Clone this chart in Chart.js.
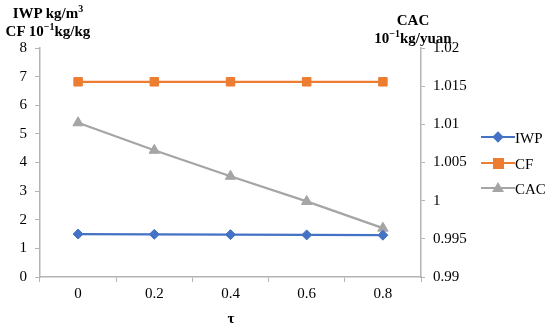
<!DOCTYPE html>
<html lang="en">
<head>
    <meta charset="UTF-8">
    <title>IWP, CF and CAC vs tau</title>
    <script src="https://cdn.jsdelivr.net/npm/chart.js"></script>
    <style>
        body { margin: 0; background: #ffffff; }
        .wrap { width: 550px; height: 330px; position: relative; font-family: "Liberation Serif", "Times New Roman", serif; }
        .title { position: absolute; width: 110px; text-align: center; font-weight: bold; font-size: 15px; line-height: 18px; color: #000; white-space: nowrap; }
        .title sup { font-size: 10px; line-height: 0; }
        .leg-line { position: absolute; left: 481px; width: 34px; height: 2px; }
        .leg-text { position: absolute; left: 515px; font-size: 15px; line-height: 18px; color: #000; }
        .mk { position: absolute; }
    </style>
</head>
<body>
<div class="wrap">
    <canvas id="chart" width="550" height="330"></canvas>
    <!-- axis titles -->
    <div class="title" style="left:-7px; top:4px;">IWP kg/m<sup>3</sup></div>
    <div class="title" style="left:-7px; top:22px;">CF 10<sup>−1</sup>kg/kg</div>
    <div class="title" style="left:358px; top:11px;">CAC</div>
    <div class="title" style="left:358px; top:29px;">10<sup>−1</sup>kg/yuan</div>
    <div class="title" style="left:176px; top:309px;">τ</div>
    <div id="legend"></div>
</div>
<script>
    // Data
    const tauLabels = ['0', '0.2', '0.4', '0.6', '0.8'];
    const iwpValues = [1.50, 1.49, 1.48, 1.47, 1.46];
    const cfValues = [6.82, 6.82, 6.82, 6.82, 6.82];
    const cacValues = [1.0102, 1.0066, 1.0032, 0.9999, 0.9964];

    const FONT = '"Liberation Serif", "Times New Roman", serif';
    const AXIS_GREY = '#b4b4b4';

    const seriesStyle = [
        { label: 'IWP', color: '#4472c4', point: 'rectRot', radius: 5 },
        { label: 'CF', color: '#ed7d31', point: 'rect', radius: 6 },
        { label: 'CAC', color: '#a5a5a5', point: 'triangle', radius: 6 }
    ];

    // HTML legend: a short line with the marker in the middle
    const legendY = [137, 163, 188];
    const legend = document.getElementById('legend');
    seriesStyle.forEach((s, i) => {
        const y = legendY[i];
        let marker;
        if (s.point === 'rectRot') {
            marker = `<div class="mk" style="left:494px; top:${y - 4}px; width:8px; height:8px; background:${s.color}; transform:rotate(45deg);"></div>`;
        } else if (s.point === 'rect') {
            marker = `<div class="mk" style="left:493px; top:${y - 5}px; width:11px; height:11px; background:${s.color};"></div>`;
        } else {
            marker = `<div class="mk" style="left:492px; top:${y - 6}px; width:0; height:0; border-left:6px solid transparent; border-right:6px solid transparent; border-bottom:10px solid ${s.color};"></div>`;
        }
        legend.innerHTML += `<div class="leg-line" style="top:${y - 1}px; background:${s.color};"></div>` +
            marker +
            `<div class="leg-text" style="top:${y - 8}px;">${s.label}</div>`;
    });

    const ctx = document.getElementById('chart').getContext('2d');
    const chart = new Chart(ctx, {
        type: 'line',
        data: {
            labels: tauLabels,
            datasets: [
                { data: iwpValues, yAxisID: 'y' },
                { data: cfValues, yAxisID: 'y' },
                { data: cacValues, yAxisID: 'y1' }
            ].map((d, i) => ({
                ...d,
                label: seriesStyle[i].label,
                borderColor: seriesStyle[i].color,
                backgroundColor: seriesStyle[i].color,
                pointStyle: seriesStyle[i].point,
                pointRadius: seriesStyle[i].radius,
                pointBorderWidth: 1,
                borderWidth: 2.25,
                tension: 0
            }))
        },
        options: {
            responsive: false,
            animation: false,
            layout: { padding: { left: 0, top: 48, right: 79, bottom: 0 } },
            plugins: { legend: { display: false }, tooltip: { enabled: false } },
            scales: {
                x: {
                    offset: true,
                    grid: { display: true, offset: true, drawOnChartArea: false, drawTicks: true, tickLength: 5, color: AXIS_GREY },
                    border: { color: AXIS_GREY, width: 1.5 },
                    ticks: { color: '#000', font: { family: FONT, size: 15 }, padding: 3, maxRotation: 0 },
                    afterFit(s) { s.height = 53; }
                },
                y: {
                    position: 'left',
                    min: 0, max: 8,
                    ticks: { stepSize: 1, autoSkip: false, color: '#000', font: { family: FONT, size: 15 }, padding: 8 },
                    grid: { display: true, drawOnChartArea: false, drawTicks: true, tickLength: 5, color: AXIS_GREY },
                    border: { color: AXIS_GREY, width: 1.5 },
                    afterFit(s) { s.width = 40; }
                },
                y1: {
                    position: 'right',
                    min: 0.99, max: 1.02,
                    ticks: {
                        stepSize: 0.005, autoSkip: false, color: '#000', font: { family: FONT, size: 15 }, padding: 8,
                        callback: v => String(Number(v.toFixed(3)))
                    },
                    grid: { display: true, drawOnChartArea: false, drawTicks: true, tickLength: 4, color: AXIS_GREY },
                    border: { color: AXIS_GREY, width: 1.5 },
                    afterFit(s) { s.width = 50; }
                }
            }
        }
    });
    // redraw once the layout has settled so the top tick label is kept
    chart.update();
    if (document.fonts && document.fonts.ready) {
        document.fonts.ready.then(() => chart.update());
    }
</script>
</body>
</html>
